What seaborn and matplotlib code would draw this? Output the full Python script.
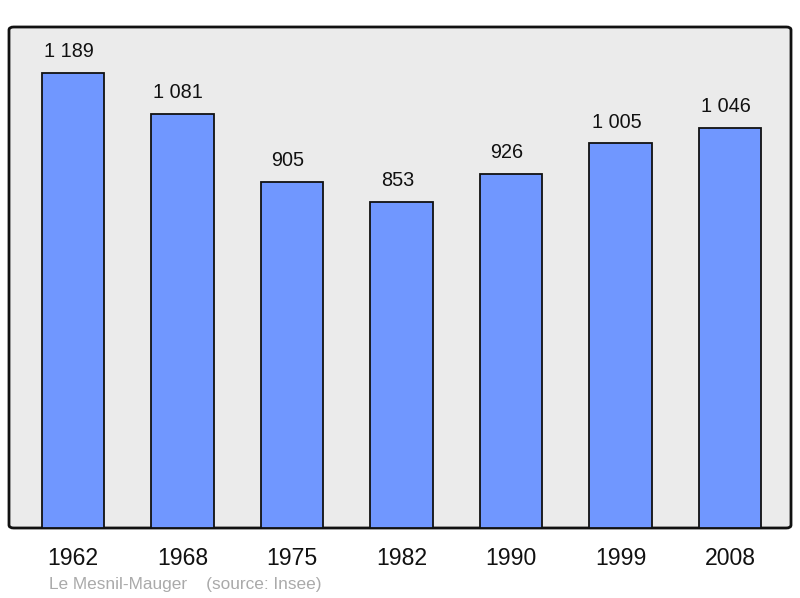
import matplotlib
matplotlib.use("Agg")
import matplotlib.pyplot as plt
import pandas as pd
import seaborn as sns
from matplotlib.patches import FancyBboxPatch

years = ["1962", "1968", "1975", "1982", "1990", "1999", "2008"]
population = [1189, 1081, 905, 853, 926, 1005, 1046]
value_labels = ["1 189", "1 081", "905", "853", "926", "1 005", "1 046"]
footer = "Le Mesnil-Mauger    (source: Insee)"

sns.set_style("white")
plt.rcParams["font.family"] = ["Liberation Sans", "DejaVu Sans"]

df = pd.DataFrame({"year": years, "population": population})

fig = plt.figure(figsize=(8, 5.98), dpi=100)
ax = fig.add_axes([9 / 800, 1 - 528 / 598, 782 / 800, 501 / 598])
ax.set_facecolor("none")

# rounded grey frame
frame = FancyBboxPatch((0, 0), 1, 1, boxstyle="round,pad=0,rounding_size=0.006",
                       transform=ax.transAxes, facecolor="#ebebeb",
                       edgecolor="#111111", linewidth=2, zorder=0, clip_on=False)
ax.add_patch(frame)

sns.barplot(data=df, x="year", y="population", color="#7097ff", width=0.57,
            edgecolor="#111111", linewidth=1.3, saturation=1, ax=ax, zorder=2)

for i, (v, lab) in enumerate(zip(population, value_labels)):
    ax.annotate(lab, (i, v), xytext=(-3, 8.5), textcoords="offset points",
                ha="center", va="bottom", fontsize=14.3, color="#111111")

ax.set_xlim(-0.584, 6.557)
ax.set_ylim(0, 1309)
ax.set_yticks([])
ax.set_xlabel("")
ax.set_ylabel("")
ax.tick_params(axis="x", length=0, pad=14, labelsize=16.6, labelcolor="#111111")
for s in ax.spines.values():
    s.set_visible(False)

fig.text(49 / 800, 1 - 584 / 598, footer, fontsize=12.4, color="#aaaaaa",
         ha="left", va="center")

fig.savefig("out.png", dpi=100)
